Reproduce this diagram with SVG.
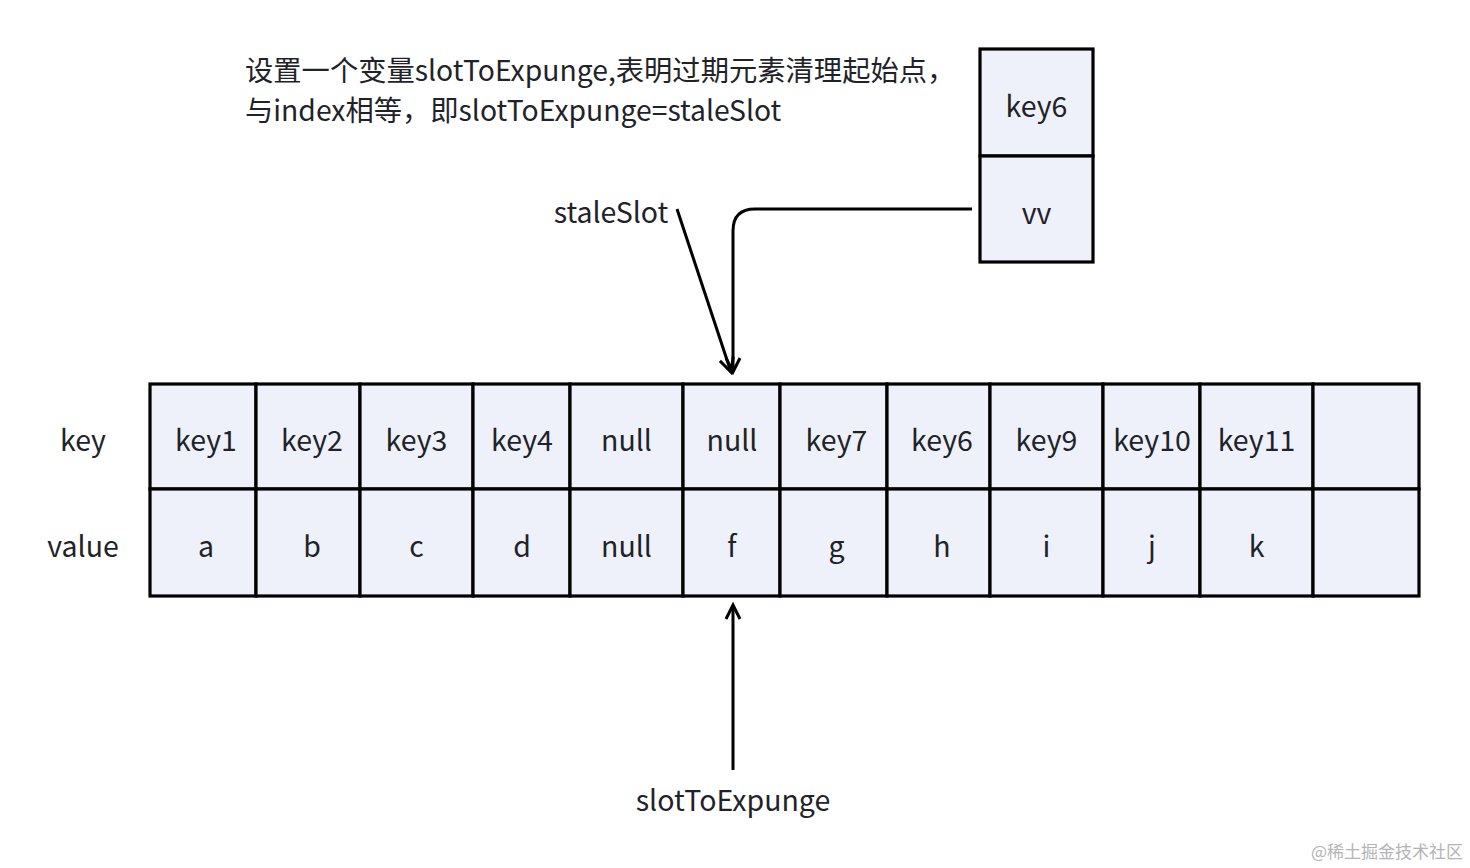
<svg xmlns="http://www.w3.org/2000/svg" width="1470" height="868" viewBox="0 0 1470 868">
<style>
.cell{fill:#eef1f9;stroke:#000;stroke-width:3.2}
.t{font-family:"Noto Sans CJK SC","Noto Sans",sans-serif;font-size:28.5px;fill:#1f2329;text-anchor:middle;dominant-baseline:central}
.lbl{font-family:"Noto Sans CJK SC","Noto Sans",sans-serif;font-size:28.3px;fill:#1f2329}
.conn{fill:none;stroke:#000;stroke-width:3}
</style>
<defs>
<marker id="arr" viewBox="0 0 20 20" refX="17" refY="10" markerWidth="20" markerHeight="20" markerUnits="userSpaceOnUse" orient="auto">
<path d="M3,3 L17,10 L3,17" fill="none" stroke="#000" stroke-width="3"/>
</marker>
</defs>
<rect width="1470" height="868" fill="#fff"/>
<g id="desc">
<text class="lbl" x="245" y="81">设置一个变量slotToExpunge,表明过期元素清理起始点，</text>
<text class="lbl" x="245" y="121">与index相等，即slotToExpunge=staleSlot</text>
</g>
<g id="row-labels">
<text class="t" x="83" y="438">key</text>
<text class="t" x="83" y="544">value</text>
</g>
<g id="entry-new">
<rect class="cell" x="980" y="49" width="113" height="107"/>
<rect class="cell" x="980" y="156" width="113" height="106"/>
<text class="t" x="1036.5" y="104">key6</text>
<text class="t" x="1036.5" y="211">vv</text>
</g>
<g id="c0"><rect class="cell" x="150" y="384" width="106" height="105"/><rect class="cell" x="150" y="489" width="106" height="107"/><text class="t" x="206" y="438">key1</text><text class="t" x="206" y="544">a</text></g>
<g id="c1"><rect class="cell" x="256" y="384" width="104" height="105"/><rect class="cell" x="256" y="489" width="104" height="107"/><text class="t" x="312" y="438">key2</text><text class="t" x="312" y="544">b</text></g>
<g id="c2"><rect class="cell" x="360" y="384" width="113" height="105"/><rect class="cell" x="360" y="489" width="113" height="107"/><text class="t" x="416.5" y="438">key3</text><text class="t" x="416.5" y="544">c</text></g>
<g id="c3"><rect class="cell" x="473" y="384" width="97" height="105"/><rect class="cell" x="473" y="489" width="97" height="107"/><text class="t" x="522" y="438">key4</text><text class="t" x="522" y="544">d</text></g>
<g id="c4"><rect class="cell" x="570" y="384" width="113" height="105"/><rect class="cell" x="570" y="489" width="113" height="107"/><text class="t" x="626.5" y="438">null</text><text class="t" x="626.5" y="544">null</text></g>
<g id="c5"><rect class="cell" x="683" y="384" width="97" height="105"/><rect class="cell" x="683" y="489" width="97" height="107"/><text class="t" x="732" y="438">null</text><text class="t" x="732" y="544">f</text></g>
<g id="c6"><rect class="cell" x="780" y="384" width="107" height="105"/><rect class="cell" x="780" y="489" width="107" height="107"/><text class="t" x="836.5" y="438">key7</text><text class="t" x="836.5" y="544">g</text></g>
<g id="c7"><rect class="cell" x="887" y="384" width="103" height="105"/><rect class="cell" x="887" y="489" width="103" height="107"/><text class="t" x="942" y="438">key6</text><text class="t" x="942" y="544">h</text></g>
<g id="c8"><rect class="cell" x="990" y="384" width="113" height="105"/><rect class="cell" x="990" y="489" width="113" height="107"/><text class="t" x="1046.5" y="438">key9</text><text class="t" x="1046.5" y="544">i</text></g>
<g id="c9"><rect class="cell" x="1103" y="384" width="97" height="105"/><rect class="cell" x="1103" y="489" width="97" height="107"/><text class="t" x="1152" y="438">key10</text><text class="t" x="1152" y="544">j</text></g>
<g id="c10"><rect class="cell" x="1200" y="384" width="113" height="105"/><rect class="cell" x="1200" y="489" width="113" height="107"/><text class="t" x="1256.5" y="438">key11</text><text class="t" x="1256.5" y="544">k</text></g>
<g id="c11"><rect class="cell" x="1313" y="384" width="106" height="105"/><rect class="cell" x="1313" y="489" width="106" height="107"/></g>
<g id="pointer-labels">
<text class="t" x="611" y="210">staleSlot</text>
<text class="t" x="733" y="798">slotToExpunge</text>
</g>
<g id="connectors">
<path class="conn" d="M677,209 L731,372" marker-end="url(#arr)"/>
<path class="conn" d="M972,209 L755,209 Q733,209 733,231 L733,372" marker-end="url(#arr)"/>
<path class="conn" d="M733,770 L733,605" marker-end="url(#arr)"/>
</g>
<text x="1463" y="858" font-family="'Noto Sans CJK SC',sans-serif" font-size="17" fill="#b4b4b4" text-anchor="end">@稀土掘金技术社区</text>
</svg>
